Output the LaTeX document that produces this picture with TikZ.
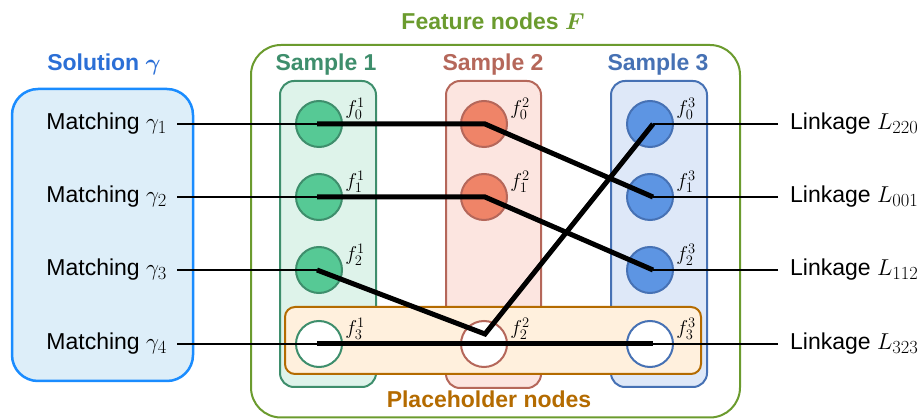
\RequirePackage{fix-cm}
\documentclass[tikz,border=0pt]{standalone}
\usepackage{fontspec}
\setmainfont{Liberation Sans}
\usetikzlibrary{calc}
\DeclareMathSizes{23}{23}{18.5}{14}
\DeclareMathSizes{20}{20}{14.5}{10}
\definecolor{solB}{HTML}{1A8CFF}
\definecolor{solF}{HTML}{DDEEF9}
\definecolor{solT}{HTML}{2B6FD6}
\definecolor{feaB}{HTML}{6B9B2E}
\definecolor{sOneB}{HTML}{3E8E6C}
\definecolor{sOneF}{HTML}{DEF3EA}
\definecolor{sOneN}{HTML}{56C995}
\definecolor{sTwoB}{HTML}{B5675A}
\definecolor{sTwoF}{HTML}{FCE5E0}
\definecolor{sTwoN}{HTML}{EF8468}
\definecolor{sThrB}{HTML}{4671B4}
\definecolor{sThrF}{HTML}{DEE8F8}
\definecolor{sThrN}{HTML}{5D95E3}
\definecolor{phB}{HTML}{B46B00}
\definecolor{phF}{HTML}{FFF0DD}
\begin{document}
\begin{tikzpicture}[x=1pt,y=-1pt,
  txt/.style={font=\fontsize{23}{27}\selectfont, inner sep=0pt, text height=16pt, text depth=5pt},
  ttl/.style={font=\fontsize{23}{27}\selectfont\bfseries\boldmath, inner sep=0pt},
  feat/.style={circle, minimum size=46pt, inner sep=0pt, line width=2pt},
  flab/.style={font=\fontsize{20}{22}\selectfont, inner sep=0pt},
  thin/.style={line width=1.6pt, black},
  thick/.style={line width=5pt, black}]
\useasboundingbox (0,0) rectangle (921,419);
% boxes
\draw[solB, fill=solF, line width=2.5pt, rounded corners=26pt] (12,89) rectangle (193,381);
\draw[feaB, line width=2pt, rounded corners=30pt] (251,45) rectangle (740,417.5);
\draw[sOneB, fill=sOneF, line width=2pt, rounded corners=14pt] (280,81) rectangle (376,387);
\draw[sTwoB, fill=sTwoF, line width=2pt, rounded corners=14pt] (446,81) rectangle (541,388);
\draw[sThrB, fill=sThrF, line width=2pt, rounded corners=14pt] (611,81) rectangle (707,387);
\draw[phB, fill=phF, line width=2pt, rounded corners=10pt] (285,307) rectangle (701,374);
% titles
\node[ttl, text=solT] (tsol) at (104,64) {Solution $\gamma$};
\node[ttl, text=feaB] (tfea) at (493,21) {Feature nodes $F$};
\node[ttl, text=sOneB] (ts1) at (326,65) {Sample 1};
\node[ttl, text=sTwoB] (ts2) at (493,65) {Sample 2};
\node[ttl, text=sThrB] (ts3) at (658,65) {Sample 3};
\node[ttl, text=phB] (tph) at (489,399) {Placeholder nodes};
% feature nodes
\node[feat, draw=sOneB, fill=sOneN] (f01) at (319,124) {};
\node[feat, draw=sOneB, fill=sOneN] (f11) at (319,197) {};
\node[feat, draw=sOneB, fill=sOneN] (f21) at (319,270) {};
\node[feat, draw=sOneB, fill=white] (f31) at (319,344) {};
\node[feat, draw=sTwoB, fill=sTwoN] (f02) at (484,124) {};
\node[feat, draw=sTwoB, fill=sTwoN] (f12) at (484,197) {};
\node[feat, draw=sTwoB, fill=white] (f22) at (484,344) {};
\node[feat, draw=sThrB, fill=sThrN] (f03) at (650,124) {};
\node[feat, draw=sThrB, fill=sThrN] (f13) at (650,197) {};
\node[feat, draw=sThrB, fill=sThrN] (f23) at (650,270) {};
\node[feat, draw=sThrB, fill=white] (f33) at (650,344) {};
% feature labels
\node[flab] (l01) at ($(f01)+(36,-15)$) {$f_0^1$};
\node[flab] (l11) at ($(f11)+(36,-15)$) {$f_1^1$};
\node[flab] (l21) at ($(f21)+(36,-15)$) {$f_2^1$};
\node[flab] (l31) at ($(f31)+(36,-15)$) {$f_3^1$};
\node[flab] (l02) at ($(f02)+(36,-15)$) {$f_0^2$};
\node[flab] (l12) at ($(f12)+(36,-15)$) {$f_1^2$};
\node[flab] (l22) at ($(f22)+(36,-15)$) {$f_2^2$};
\node[flab] (l03) at ($(f03)+(36,-15)$) {$f_0^3$};
\node[flab] (l13) at ($(f13)+(36,-15)$) {$f_1^3$};
\node[flab] (l23) at ($(f23)+(36,-15)$) {$f_2^3$};
\node[flab] (l33) at ($(f33)+(36,-15)$) {$f_3^3$};
% matching labels
\node[txt, anchor=east] (m1) at (167,124) {Matching $\gamma_1$};
\node[txt, anchor=east] (m2) at (167,197) {Matching $\gamma_2$};
\node[txt, anchor=east] (m3) at (167,270) {Matching $\gamma_3$};
\node[txt, anchor=east] (m4) at (167,344) {Matching $\gamma_4$};
% linkage labels
\node[txt, anchor=west] (k1) at (790,124) {Linkage $L_{220}$};
\node[txt, anchor=west] (k2) at (790,197) {Linkage $L_{001}$};
\node[txt, anchor=west] (k3) at (790,270) {Linkage $L_{112}$};
\node[txt, anchor=west] (k4) at (790,344) {Linkage $L_{323}$};
% thin connectors
\draw[thin, shorten <=10pt] (m1.east) -- ($(f01.center)+(-2,0)$);
\draw[thin, shorten <=10pt] (m2.east) -- ($(f11.center)+(-2,0)$);
\draw[thin, shorten <=10pt] (m3.east) -- ($(f21.center)+(-2,0)$);
\draw[thin, shorten <=10pt] (m4.east) -- ($(f31.center)+(-2,0)$);
\draw[thin, shorten <=12pt] (k1.west) -- ($(f03.center)+(3,0)$);
\draw[thin, shorten <=12pt] (k2.west) -- ($(f13.center)+(3,0)$);
\draw[thin, shorten <=12pt] (k3.west) -- ($(f23.center)+(3,0)$);
\draw[thin, shorten <=12pt] (k4.west) -- ($(f33.center)+(3,0)$);
% thick matching paths
\draw[thick, line join=miter] ($(f01.center)+(-2,0)$) -- ($(f02.center)+(1,0)$) -- ($(f13.center)+(3,0)$);
\draw[thick, line join=miter] ($(f11.center)+(-2,0)$) -- ($(f12.center)+(1,0)$) -- ($(f23.center)+(3,0)$);
\draw[thick, line join=miter] ($(f21.center)+(-2,0)$) -- ($(f22.center)+(1,-10)$) -- ($(f03.center)+(3,0)$);
\draw[thick] ($(f31.center)+(-2,0)$) -- (f22.center) -- ($(f33.center)+(3,0)$);
\end{tikzpicture}
\end{document}
